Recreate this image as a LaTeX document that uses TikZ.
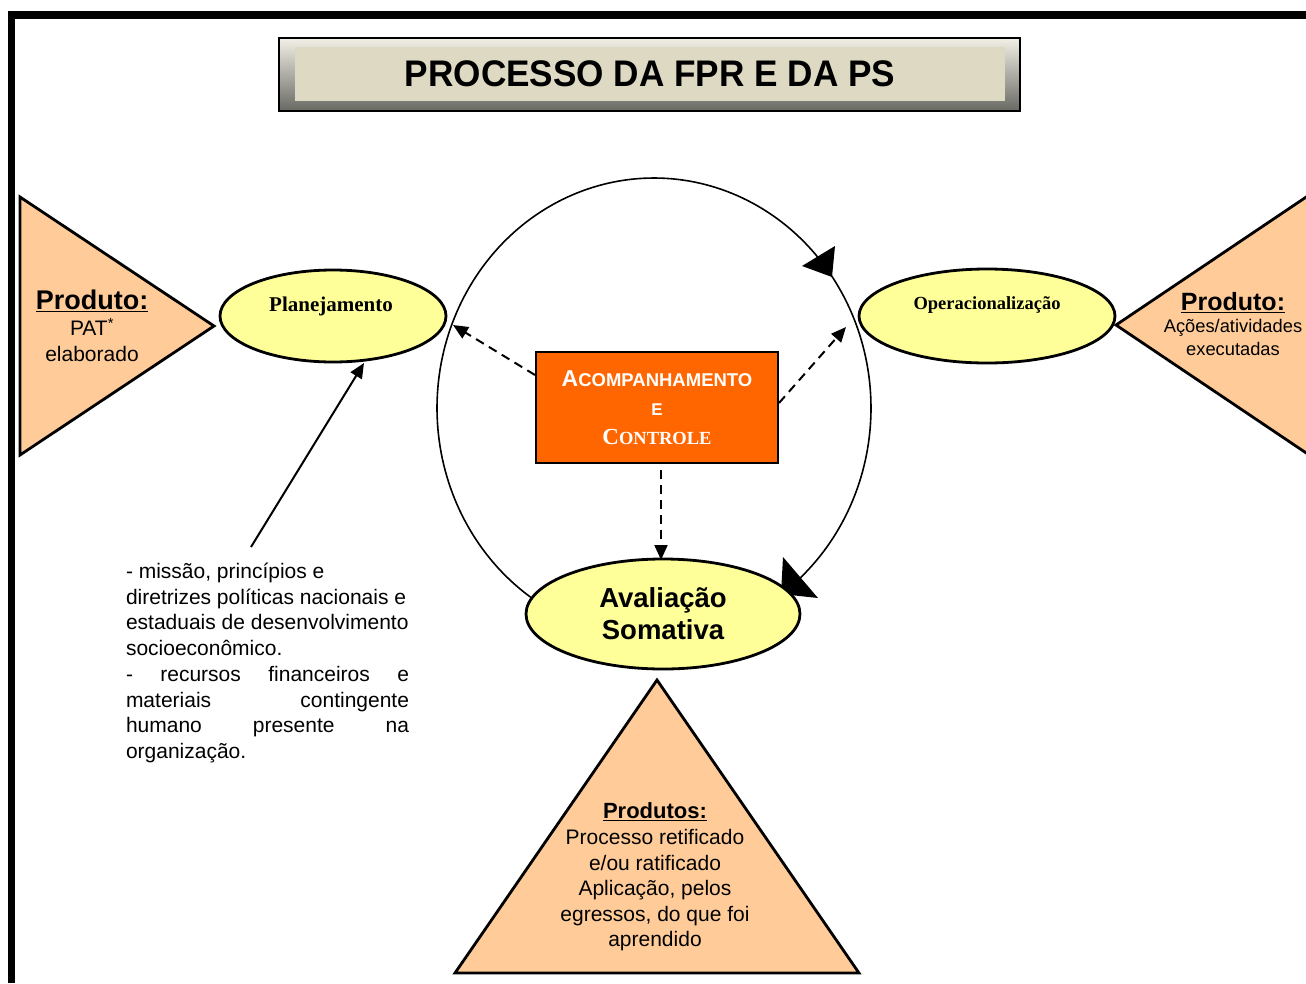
\documentclass[tikz,border=0pt]{standalone}
\usepackage{fontspec}
\setmainfont{Liberation Serif}
\setsansfont{Liberation Sans}
\usetikzlibrary{arrows.meta,shapes.geometric}
\definecolor{peach}{HTML}{FFCC99}
\definecolor{lyellow}{HTML}{FFFF99}
\definecolor{orangebox}{HTML}{FF6600}
\definecolor{beigein}{HTML}{DDD9C3}
\newcommand{\fsz}[2]{\fontsize{#1}{#2}\selectfont}
\begin{document}
\begin{tikzpicture}[x=1pt,y=-1pt,
  tri/.style={draw=black,line width=2.8pt,fill=peach,line join=miter},
  ell/.style={draw=black,line width=2.8pt,fill=lyellow,ellipse,inner sep=0pt},
  txt/.style={inner sep=0pt,align=center},
  dasharrow/.style={line width=2pt,dash pattern=on 9pt off 6pt,-{Triangle[length=15pt,width=13pt]}},
  solidarrow/.style={line width=2pt,-{Triangle[length=15pt,width=13pt]}},
  loop/.style={line width=1.6pt},
  headfill/.style={fill=black}]
\useasboundingbox (0,0) rectangle (1306,983);
% page border
\fill[black] (8,11) rectangle (1306,19);
\fill[black] (8,11) rectangle (15,983);
% title
\shade[top color={rgb,255:red,242;green,240;blue,230},bottom color={rgb,255:red,105;green,105;blue,100},draw=black,line width=1.2pt] (279,38) rectangle (1020,111);
\fill[beigein] (295,47) rectangle (1005,101);
\node[txt,font=\sffamily\bfseries\fsz{37}{37}] (title) at (650,74) {\scalebox{0.95}[1]{PROCESSO DA FPR E DA PS}};
% triangles
\draw[tri] (20,197) -- (214,326) -- (20,455) -- cycle;
\begin{scope}
\clip (0,0) rectangle (1306,983);
\draw[tri] (1330,181) -- (1116,325) -- (1330,469) -- cycle;
\end{scope}
\draw[tri] (657,680) -- (859,973) -- (455,973) -- cycle;
% loop
\draw[loop] plot[domain=115:412, samples=200] ({654+217*cos(\x)},{408+230*sin(\x)});
\fill[headfill] (802,266) -- (835,246) -- (832,277) -- cycle;
\fill[headfill] (783,557) -- (818,598) -- (781,594) -- cycle;
% ellipses
\node[ell,minimum width=226pt,minimum height=92pt] (plan) at (333,316) {};
\node[txt,font=\rmfamily\bfseries\fsz{21}{24}] (plantxt) at (331,306) {Planejamento};
\node[ell,minimum width=256pt,minimum height=94pt] (oper) at (987,316) {};
\node[txt,font=\rmfamily\bfseries\fsz{18.5}{22}] (opertxt) at (987,305) {Operacionalização};
\node[ell,minimum width=274pt,minimum height=110pt,align=center,font=\sffamily\bfseries\fsz{27.5}{32}] (aval) at (663,614) {\raisebox{-2pt}{Avaliação}\\\raisebox{-2pt}{Somativa}};
% center box
\node[draw=black,line width=2.5pt,fill=orangebox,minimum width=242pt,minimum height=111pt,inner sep=0pt,align=center,text=white,font=\bfseries\fsz{20}{29}] (ac) at (657,407.5)
 {{\sffamily\fsz{23}{29}A\fsz{18.5}{29}COMPANHAMENTO}\\{\sffamily\fsz{17}{29}E}\\{\rmfamily\fsz{23}{29}C\fsz{18.5}{29}ONTROLE}};
% connectors
\coordinate (d1s) at (535,375);
\coordinate (d1e) at (453,325);
\coordinate (d2s) at (779,403);
\coordinate (d2e) at (846,327);
\coordinate (d3s) at (661,470);
\coordinate (d3e) at (661,560);
\coordinate (s1s) at (251,547);
\coordinate (s1e) at (364,363);
\draw[dasharrow] (d1s) -- (d1e);
\draw[dasharrow] (d2s) -- (d2e);
\draw[dasharrow] (d3s) -- (d3e);
\draw[solidarrow] (s1s) -- (s1e);
% triangle texts
\node[txt,font=\sffamily\fsz{21}{26}] (lefttxt) at (92,326) {{\bfseries\fsz{27}{29}\underline{Produto:}}\\PAT\textsuperscript{*}\\elaborado};
\node[txt,font=\sffamily\fsz{18.3}{22.5}] (righttxt) at (1233,324) {{\bfseries\fsz{25}{27}\underline{Produto:}}\\Ações/atividades\\executadas};
\node[txt,font=\sffamily\fsz{21}{25.6}] (bottxt) at (655,877) {{\bfseries\fsz{22}{25.6}\underline{Produtos:}}\\Processo retificado\\e/ou ratificado\\Aplicação, pelos\\egressos, do que foi\\aprendido};
% inputs text
\node[txt,align=left,font=\sffamily\fsz{21}{25.7}] (inputs) at (267.5,663) {- missão, princípios e\\diretrizes políticas nacionais e\\estaduais de desenvolvimento\\socioeconômico.\\\makebox[283pt][s]{- recursos financeiros e}\\\makebox[283pt][s]{materiais contingente}\\\makebox[283pt][s]{humano presente na}\\organização.};
\end{tikzpicture}
\end{document}
